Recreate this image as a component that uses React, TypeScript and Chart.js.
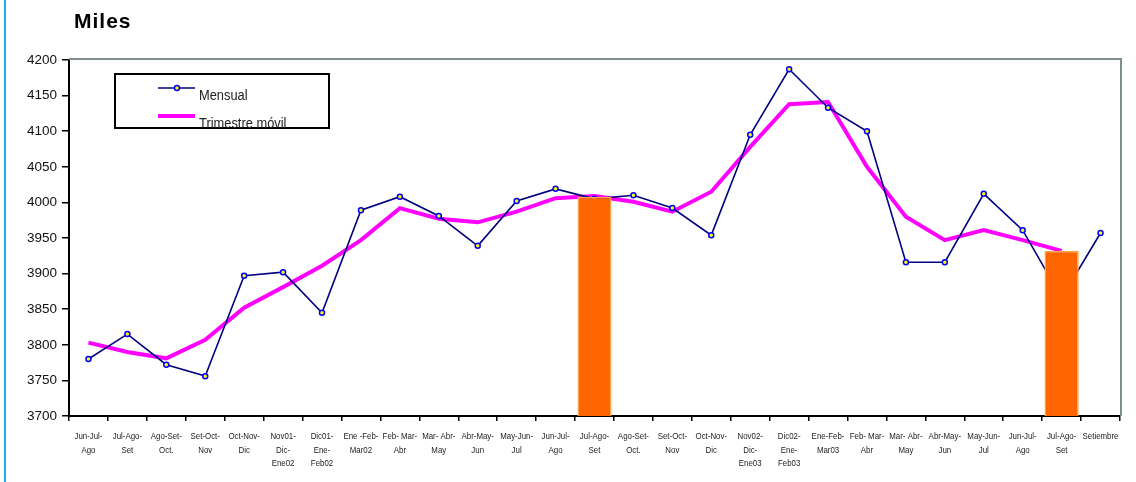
import React, { useEffect, useRef } from "react";
import { Chart, registerables } from "chart.js";

Chart.register(...registerables);

const categories: string[][] = [
  ["Jun-Jul-", "Ago"],
  ["Jul-Ago-", "Set"],
  ["Ago-Set-", "Oct."],
  ["Set-Oct-", "Nov"],
  ["Oct-Nov-", "Dic"],
  ["Nov01-", "Dic-", "Ene02"],
  ["Dic01-", "Ene-", "Feb02"],
  ["Ene -Feb-", "Mar02"],
  ["Feb- Mar-", "Abr"],
  ["Mar- Abr-", "May"],
  ["Abr-May-", "Jun"],
  ["May-Jun-", "Jul"],
  ["Jun-Jul-", "Ago"],
  ["Jul-Ago-", "Set"],
  ["Ago-Set-", "Oct."],
  ["Set-Oct-", "Nov"],
  ["Oct-Nov-", "Dic"],
  ["Nov02-", "Dic-", "Ene03"],
  ["Dic02-", "Ene-", "Feb03"],
  ["Ene-Feb-", "Mar03"],
  ["Feb- Mar-", "Abr"],
  ["Mar- Abr-", "May"],
  ["Abr-May-", "Jun"],
  ["May-Jun-", "Jul"],
  ["Jun-Jul-", "Ago"],
  ["Jul-Ago-", "Set"],
  ["Setiembre"],
];

const mensual: (number | null)[] = [
  3780, 3815, 3772, 3756, 3897, 3902, 3845, 3989, 4008, 3981, 3939, 4002, 4019,
  4005, 4010, 3992, 3954, 4095, 4187, 4133, 4100, 3916, 3916, 4012, 3961, 3866,
  3957,
];

const trimestreMovil: (number | null)[] = [
  3803, 3790, 3781, 3807, 3852, 3881, 3911, 3947, 3992, 3977, 3972, 3987, 4006,
  4009, 4001, 3987, 4015, 4078, 4138, 4141, 4050, 3980, 3947, 3961, 3947, 3932,
  null,
];

const barras: (number | null)[] = [
  null, null, null, null, null, null, null, null, null, null, null, null, null,
  4008, null, null, null, null, null, null, null, null, null, null, null, 3932,
  null,
];

const yTicks = { min: 3700, max: 4200, step: 50 };

const seriesNames = ["Mensual", "Trimestre móvil"];
const titleText = "Miles";

const NARROW = 0.83;

function narrowText(
  ctx: CanvasRenderingContext2D,
  text: string,
  x: number,
  y: number,
  align: CanvasTextAlign
) {
  ctx.save();
  ctx.translate(x, y);
  ctx.scale(NARROW, 1);
  ctx.textAlign = align;
  ctx.fillText(text, 0, 0);
  ctx.restore();
}

const decorPlugin = {
  id: "decor",
  afterDraw(chart: any) {
    const ctx = chart.ctx as CanvasRenderingContext2D;
    const a = chart.chartArea;
    ctx.save();
    // plot frame (top & right in gray)
    ctx.strokeStyle = "#7f8f8f";
    ctx.lineWidth = 2;
    ctx.beginPath();
    ctx.moveTo(a.left, a.top - 1);
    ctx.lineTo(a.right + 1, a.top - 1);
    ctx.lineTo(a.right + 1, a.bottom);
    ctx.stroke();
    // left cyan rule
    ctx.strokeStyle = "#18b4f0";
    ctx.lineWidth = 2;
    ctx.beginPath();
    ctx.moveTo(5, 0);
    ctx.lineTo(5, chart.height);
    ctx.stroke();
    // title
    ctx.fillStyle = "#000";
    ctx.font = "bold 21px 'Liberation Sans', Arial, sans-serif";
    (ctx as any).letterSpacing = "1px";
    ctx.textAlign = "left";
    ctx.textBaseline = "alphabetic";
    ctx.fillText(titleText, 74, 28);
    (ctx as any).letterSpacing = "0px";
    // x category labels (condensed)
    const xs = chart.scales.x;
    ctx.fillStyle = "#222";
    ctx.font = "9.5px 'Liberation Sans', Arial, sans-serif";
    categories.forEach((lines, i) => {
      const px = xs.getPixelForValue(i);
      lines.forEach((ln, j) => {
        narrowText(ctx, ln, px, 439 + j * 13.5, "center");
      });
    });
    // legend box
    ctx.fillStyle = "#fff";
    ctx.fillRect(115, 74, 214, 54);
    ctx.strokeStyle = "#000";
    ctx.lineWidth = 2;
    ctx.strokeRect(115, 74, 214, 54);
    // Mensual sample
    ctx.strokeStyle = "#000080";
    ctx.lineWidth = 1.5;
    ctx.beginPath();
    ctx.moveTo(158, 88);
    ctx.lineTo(195, 88);
    ctx.stroke();
    ctx.beginPath();
    ctx.arc(177, 88, 2.5, 0, Math.PI * 2);
    ctx.fillStyle = "#ffff00";
    ctx.fill();
    ctx.strokeStyle = "#0000ff";
    ctx.lineWidth = 1.5;
    ctx.stroke();
    // Trimestre sample
    ctx.strokeStyle = "#ff00ff";
    ctx.lineWidth = 4;
    ctx.beginPath();
    ctx.moveTo(158, 116);
    ctx.lineTo(195, 116);
    ctx.stroke();
    ctx.fillStyle = "#222";
    ctx.font = "15.5px 'Liberation Sans', Arial, sans-serif";
    narrowText(ctx, seriesNames[0], 199, 100, "left");
    narrowText(ctx, seriesNames[1], 199, 128, "left");
    ctx.restore();
  },
};

export default function App() {
  const ref = useRef<HTMLCanvasElement | null>(null);

  useEffect(() => {
    document.body.style.margin = "0";
    if (!ref.current) return;
    const chart = new Chart(ref.current, {
      type: "bar",
      data: {
        labels: categories,
        datasets: [
          {
            type: "bar",
            label: "barras",
            data: barras,
            backgroundColor: "#ff6600",
            borderColor: "#ffaa44",
            borderWidth: 1.5,
            barPercentage: 0.88,
            categoryPercentage: 1,
            order: 0,
          } as any,
          {
            type: "line",
            label: seriesNames[0],
            data: mensual,
            borderColor: "#000080",
            borderWidth: 1.6,
            pointRadius: 2.5,
            pointBackgroundColor: "#ffff00",
            pointBorderColor: "#0000ff",
            pointBorderWidth: 1.5,
            tension: 0,
            order: 1,
          },
          {
            type: "line",
            label: seriesNames[1],
            data: trimestreMovil,
            borderColor: "#ff00ff",
            borderWidth: 4,
            pointRadius: 0,
            tension: 0,
            order: 2,
          },
        ],
      },
      options: {
        animation: false,
        responsive: false,
        maintainAspectRatio: false,
        layout: { padding: { left: 0, top: 60, right: 16, bottom: 0 } },
        plugins: {
          legend: { display: false },
          tooltip: { enabled: false },
          title: { display: false },
        },
        scales: {
          x: {
            offset: true,
            grid: {
              offset: true,
              drawOnChartArea: false,
              drawTicks: true,
              tickLength: 5,
              color: "#000",
              lineWidth: 1.5,
            },
            border: { display: true, color: "#000", width: 2 },
            ticks: {
              display: false,
              autoSkip: false,
              maxRotation: 0,
              minRotation: 0,
            },
            afterFit(scale: any) {
              scale.height = 66;
            },
          },
          y: {
            min: yTicks.min,
            max: yTicks.max,
            grid: {
              drawOnChartArea: false,
              drawTicks: true,
              tickLength: 7,
              color: "#000",
              lineWidth: 1.5,
            },
            border: { display: true, color: "#000", width: 2 },
            ticks: {
              stepSize: yTicks.step,
              padding: 5,
              color: "#111",
              font: { family: "'Liberation Sans', Arial, sans-serif", size: 13.5 },
              callback: (v: any) => String(v),
            },
            afterFit(scale: any) {
              scale.width = 69;
            },
          },
        },
      },
      plugins: [decorPlugin],
    });
    return () => chart.destroy();
  }, []);

  return (
    <div style={{ width: 1136, height: 482, background: "#fff" }}>
      <canvas ref={ref} width={1136} height={482} style={{ display: "block" }} />
    </div>
  );
}
